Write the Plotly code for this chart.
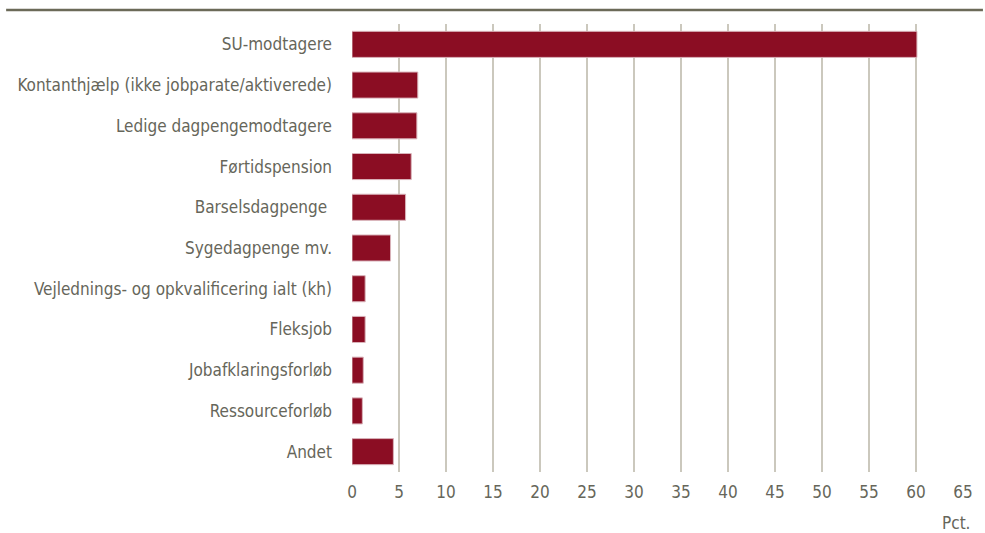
import plotly.graph_objects as go

# Categories (top to bottom) and shares in percent
categories = [
    "SU-modtagere",
    "Kontanthjælp (ikke jobparate/aktiverede)",
    "Ledige dagpengemodtagere",
    "Førtidspension",
    "Barselsdagpenge ",
    "Sygedagpenge mv.",
    "Vejlednings- og opkvalificering ialt (kh)",
    "Fleksjob",
    "Jobafklaringsforløb",
    "Ressourceforløb",
    "Andet",
]
values = [60.1, 7.0, 6.9, 6.3, 5.7, 4.1, 1.4, 1.4, 1.2, 1.1, 4.4]
x_ticks = list(range(0, 70, 5))

text_color = "#66665a"
font_family = "Liberation Sans Narrow, Arial Narrow, DejaVu Sans Condensed, sans-serif"

plot_left, plot_right = 352, 965
plot_top, plot_bottom = 24, 472
plot_w = plot_right - plot_left
plot_h = plot_bottom - plot_top

fig = go.Figure(
    go.Bar(
        x=values,
        y=categories,
        orientation="h",
        width=0.64,
        marker=dict(color="#8b0d23", line=dict(color="#d9b3ba", width=1)),
        hoverinfo="x+y",
    )
)

fig.update_layout(
    width=985,
    height=533,
    margin=dict(l=plot_left, r=985 - plot_right, t=plot_top, b=533 - plot_bottom),
    paper_bgcolor="white",
    plot_bgcolor="white",
    showlegend=False,
    font=dict(family=font_family, size=17, color=text_color),
    xaxis=dict(
        range=[0, 65],
        tickvals=x_ticks,
        ticktext=[str(t) for t in x_ticks],
        showgrid=True,
        gridcolor="#cbc8bd",
        gridwidth=1.5,
        zeroline=False,
        showline=False,
        ticks="",
        ticklabelstandoff=8,
        tickfont=dict(size=17, color=text_color),
    ),
    yaxis=dict(
        categoryorder="array",
        categoryarray=categories[::-1],
        range=[-0.5, 10.5],
        showgrid=False,
        zeroline=False,
        showline=False,
        ticks="",
        ticklabelstandoff=19,
        tickfont=dict(size=17, color=text_color),
    ),
    shapes=[
        # rule across the top of the figure
        dict(
            type="line", xref="paper", yref="paper",
            x0=(5 - plot_left) / plot_w, x1=(985 - plot_left) / plot_w,
            y0=(plot_bottom - 10) / plot_h, y1=(plot_bottom - 10) / plot_h,
            line=dict(color="#6b6a58", width=2.5),
        )
    ],
    annotations=[
        dict(
            text="Pct.", xref="paper", yref="paper",
            x=(974 - plot_left) / plot_w, y=-(523 - plot_bottom) / plot_h,
            xanchor="right", yanchor="middle",
            showarrow=False, font=dict(size=17, color=text_color),
        )
    ],
)

fig.write_html("out.html")
